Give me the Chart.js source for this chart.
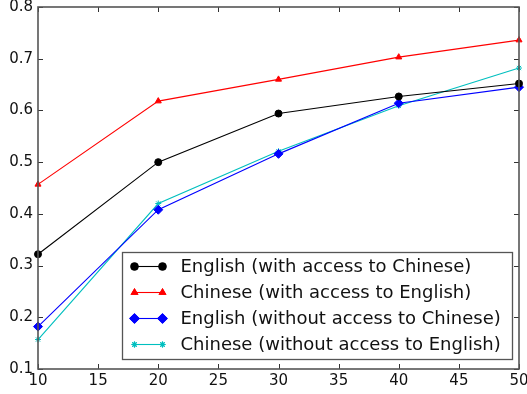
<!DOCTYPE html>
<html>
<head>
<meta charset="utf-8">
<script src="https://cdn.jsdelivr.net/npm/chart.js@4/dist/chart.umd.min.js"></script>
<style>
  html, body { margin: 0; padding: 0; background: #fff; }
  #wrap { width: 527px; height: 394px; }
</style>
</head>
<body>
<div id="wrap"><canvas id="c" width="527" height="394"></canvas></div>
<script>
// Training size on the x axis, scores on the y axis
const sizes = [10, 20, 30, 40, 50];
const englishWithChinese = [0.322, 0.500, 0.594, 0.627, 0.652];
const chineseWithEnglish = [0.457, 0.618, 0.660, 0.703, 0.736];
const englishWithoutChinese = [0.182, 0.408, 0.516, 0.614, 0.645];
const chineseWithoutEnglish = [0.157, 0.420, 0.521, 0.609, 0.682];
const seriesLabels = [
  'English (with access to Chinese)',
  'Chinese (with access to English)',
  'English (without access to Chinese)',
  'Chinese (without access to English)'
];
const xTicks = [10, 15, 20, 25, 30, 35, 40, 45, 50];
const yTicks = [0.1, 0.2, 0.3, 0.4, 0.5, 0.6, 0.7, 0.8];

const FONT = "'DejaVu Sans', sans-serif";

function pts(vals) { return vals.map((v, i) => ({ x: sizes[i], y: v })); }

const datasets = [
  { label: seriesLabels[0], data: pts(englishWithChinese), borderColor: '#000', backgroundColor: '#000', pointStyle: 'circle', pointRadius: 3.5 },
  { label: seriesLabels[1], data: pts(chineseWithEnglish), borderColor: '#ff0000', backgroundColor: '#ff0000', pointStyle: 'triangle', pointRadius: 3.5 },
  { label: seriesLabels[2], data: pts(englishWithoutChinese), borderColor: '#0000ff', backgroundColor: '#0000ff', pointStyle: 'rectRot', pointRadius: 4.5 },
  { label: seriesLabels[3], data: pts(chineseWithoutEnglish), borderColor: '#00bfbf', backgroundColor: '#00bfbf', pointStyle: 'star', pointRadius: 3 }
].map(d => Object.assign(d, { borderWidth: 1.1, pointBorderWidth: 1, pointHoverRadius: d.pointRadius, tension: 0, clip: false }));

// Frame, inward ticks on all four sides, and a legend box inside the plot
const framePlugin = {
  id: 'frame',
  afterDraw(chart) {
    const { ctx, chartArea: a, scales } = chart;
    ctx.save();
    ctx.strokeStyle = '#333';
    ctx.lineWidth = 1;
    const L = 5;
    xTicks.forEach(t => {
      const x = Math.round(scales.x.getPixelForValue(t)) + 0.5;
      ctx.beginPath();
      ctx.moveTo(x, a.bottom); ctx.lineTo(x, a.bottom - L);
      ctx.moveTo(x, a.top); ctx.lineTo(x, a.top + L);
      ctx.stroke();
    });
    yTicks.forEach(t => {
      const y = Math.round(scales.y.getPixelForValue(t)) + 0.5;
      ctx.beginPath();
      ctx.moveTo(a.left, y); ctx.lineTo(a.left + L, y);
      ctx.moveTo(a.right, y); ctx.lineTo(a.right - L, y);
      ctx.stroke();
    });
    ctx.strokeStyle = '#555';
    ctx.lineWidth = 1.6;
    ctx.strokeRect(a.left, a.top, a.right - a.left, a.bottom - a.top);

    // legend
    const bx = 122.5, by = 252.5, bw = 390, bh = 107;
    ctx.fillStyle = '#fff';
    ctx.fillRect(bx, by, bw, bh);
    ctx.strokeStyle = '#555';
    ctx.lineWidth = 1.3;
    ctx.strokeRect(bx, by, bw, bh);
    ctx.font = '18px ' + FONT;
    ctx.textBaseline = 'middle';
    chart.data.datasets.forEach((ds, i) => {
      const y = by + 14 + i * 26;
      const x0 = bx + 12, x1 = bx + 40;
      ctx.strokeStyle = ds.borderColor;
      ctx.lineWidth = ds.borderWidth;
      ctx.beginPath(); ctx.moveTo(x0, y); ctx.lineTo(x1, y); ctx.stroke();
      ctx.fillStyle = ds.borderColor;
      ctx.strokeStyle = ds.borderColor;
      [x0, x1].forEach(px => {
        ctx.beginPath();
        Chart.helpers.drawPoint(ctx, { pointStyle: ds.pointStyle, radius: ds.pointRadius, rotation: 0, borderWidth: 1 }, px, y);
        ctx.fill(); ctx.stroke();
      });
      ctx.fillStyle = '#111';
      ctx.fillText(ds.label, bx + 58, y + 1);
    });
    ctx.restore();
  }
};

function noPad(s) {
  s.paddingLeft = 0; s.paddingRight = 0; s.paddingTop = 0; s.paddingBottom = 0;
}

new Chart(document.getElementById('c'), {
  type: 'line',
  data: { datasets },
  options: {
    responsive: false,
    animation: false,
    events: [],
    layout: { padding: { top: 7, right: 8, left: 0, bottom: 0 } },
    plugins: { legend: { display: false }, tooltip: { enabled: false } },
    scales: {
      x: {
        type: 'linear', min: 10, max: 50,
        afterFit(s) { s.height = 25; noPad(s); },
        afterBuildTicks(s) { s.ticks = xTicks.map(v => ({ value: v })); },
        grid: { display: false, drawTicks: false },
        border: { display: false },
        ticks: { color: '#111', font: { family: FONT, size: 15 }, padding: 3, maxRotation: 0, autoSkip: false }
      },
      y: {
        type: 'linear', min: 0.1, max: 0.8,
        afterFit(s) { s.width = 38; noPad(s); },
        afterBuildTicks(s) { s.ticks = yTicks.map(v => ({ value: v })); },
        grid: { display: false, drawTicks: false },
        border: { display: false },
        ticks: { color: '#111', font: { family: FONT, size: 15 }, padding: 5, callback: v => v.toFixed(1) }
      }
    }
  },
  plugins: [framePlugin]
});
</script>
</body>
</html>
